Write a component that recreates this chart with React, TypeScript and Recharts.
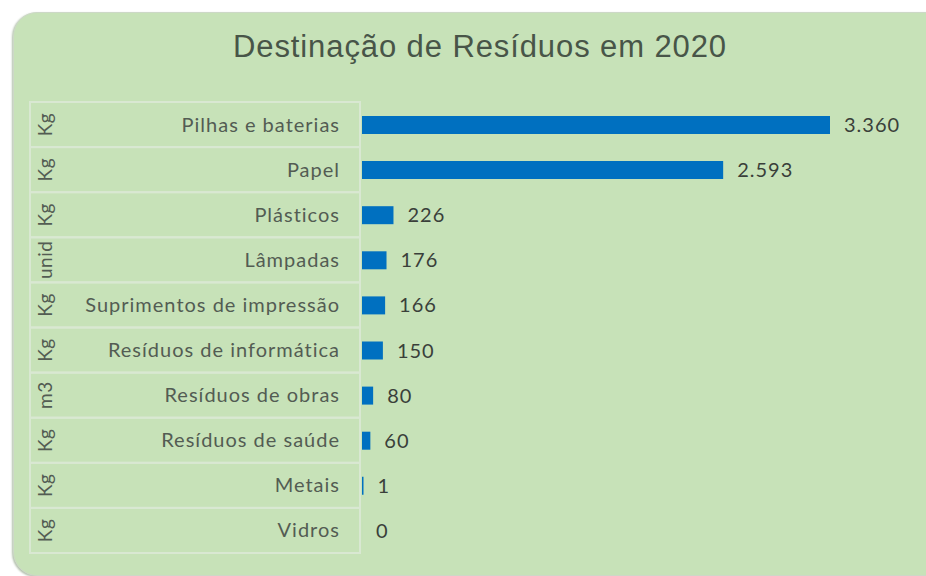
import React from "react";
import { BarChart, Bar, XAxis, YAxis, LabelList } from "recharts";

const categories = [
  "Pilhas e baterias",
  "Papel",
  "Plásticos",
  "Lâmpadas",
  "Suprimentos de impressão",
  "Resíduos de informática",
  "Resíduos de obras",
  "Resíduos de saúde",
  "Metais",
  "Vidros",
];
const units = ["Kg", "Kg", "Kg", "unid", "Kg", "Kg", "m3", "Kg", "Kg", "Kg"];
const values = [3360, 2593, 226, 176, 166, 150, 80, 60, 1, 0];

const data = categories.map((name, i) => ({ name, unit: units[i], value: values[i] }));

const LABEL_FONT = "Lato, 'Open Sans', sans-serif";
const ROW_H = 45.1;

function CategoryTick(props: any) {
  const { y, payload, index } = props;
  const unit = units[index] ?? data[payload.index]?.unit;
  return (
    <g>
      <rect x={30} y={y - ROW_H / 2} width={330} height={ROW_H} fill="none" stroke="#d9e8d2" strokeWidth={2} />
      <text
        x={340}
        y={y}
        dy={7}
        textAnchor="end"
        fill="#535c53"
        fontSize={20}
        letterSpacing={1}
        fontFamily={LABEL_FONT}
      >
        {payload.value}
      </text>
      <text
        x={46}
        y={y}
        transform={`rotate(-90, 46, ${y})`}
        dy={6}
        textAnchor="middle"
        fill="#535c53"
        fontSize={19}
        letterSpacing={0.5}
        fontFamily={LABEL_FONT}
      >
        {unit}
      </text>
    </g>
  );
}

const fmt = (v: any) => Number(v).toLocaleString("pt-BR");

function ValueLabel(props: any) {
  const { x, y, width, height, value } = props;
  return (
    <text
      x={Number(x) + Number(width || 0) + 14}
      y={Number(y) + Number(height) / 2}
      dy={7}
      fill="#3a3f3a"
      fontSize={20}
      letterSpacing={1}
      fontFamily={LABEL_FONT}
    >
      {fmt(value)}
    </text>
  );
}

export default function App() {
  return (
    <div style={{ position: "absolute", left: 0, top: 0, width: 926, height: 576, overflow: "hidden", background: "#fff" }}>
      <div
        style={{
          position: "absolute",
          left: 13,
          top: 12,
          width: 960,
          height: 562,
          borderRadius: 24,
          background: "#c7e2b8",
          border: "1px solid #cdd8c7",
          boxShadow: "-1px 1px 2px #b4c2ae",
        }}
      />
      <div
        style={{
          position: "absolute",
          left: 0,
          top: 29,
          width: 960,
          textAlign: "center",
          fontFamily: "'Liberation Sans', Arial, sans-serif",
          fontSize: 31,
          letterSpacing: 0.9,
          color: "#485548",
        }}
      >
        Destinação de Resíduos em 2020
      </div>
      <div style={{ position: "absolute", left: 0, top: 0 }}>
        <BarChart
          width={926}
          height={576}
          data={data}
          layout="vertical"
          margin={{ top: 102, right: 96, bottom: 23, left: 0 }}
          barCategoryGap={0}
        >
          <XAxis type="number" domain={[0, 3360]} hide />
          <YAxis
            type="category"
            dataKey="name"
            width={362}
            axisLine={false}
            tickLine={false}
            interval={0}
            tick={<CategoryTick />}
          />
          <Bar
            dataKey="value"
            fill="#0070c0"
            barSize={18}
            isAnimationActive={false}
            minPointSize={(v: number) => (v > 0 ? 1.5 : 0.01)}
          >
            <LabelList dataKey="value" content={<ValueLabel />} />
          </Bar>
        </BarChart>
      </div>
    </div>
  );
}
